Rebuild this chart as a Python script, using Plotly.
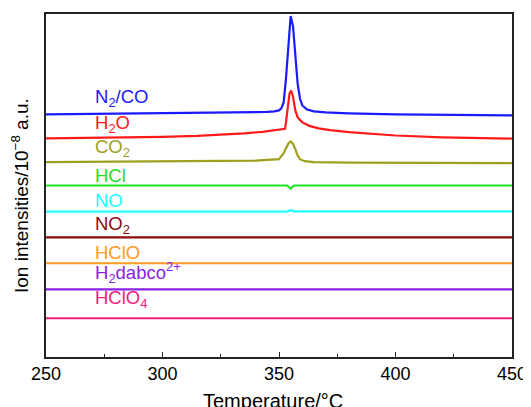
import plotly.graph_objects as go

# ---- data (intensities in arbitrary stacked units) ----
temp_n2co = [250, 300, 330, 340, 345, 348, 350, 351, 352, 353, 354, 355, 356, 357, 358, 359, 360, 362, 365, 370, 380, 400, 450]
n2co = [24.4, 24.5, 24.55, 24.6, 24.65, 24.7, 24.8, 25.0, 25.6, 28.0, 31.5, 34.3, 33.3, 30.0, 27.5, 26.0, 25.3, 24.9, 24.7, 24.6, 24.5, 24.4, 24.3]

temp_h2o = [250, 280, 300, 315, 325, 335, 343, 348, 352.6, 353.0, 353.5, 354.0, 354.5, 355.2, 356.0, 357.0, 358.0, 360.0, 363.0, 367.0, 372.0, 380.0, 390.0, 400.0, 420.0, 450.0]
h2o = [22.0, 22.08, 22.15, 22.25, 22.35, 22.5, 22.65, 22.78, 22.95, 23.6, 24.7, 25.8, 26.5, 26.8, 26.2, 24.8, 24.1, 23.6, 23.25, 23.0, 22.82, 22.62, 22.42, 22.28, 22.1, 21.97]

temp_co2 = [250, 300, 340, 350, 351, 352, 353, 354, 355, 356, 357, 358, 359, 361, 365, 380, 450]
co2 = [19.6, 19.65, 19.75, 19.9, 20.15, 20.5, 21.0, 21.45, 21.7, 21.45, 20.9, 20.25, 19.9, 19.7, 19.6, 19.55, 19.5]

temp_hcl = [250, 350, 353.5, 355, 356.5, 360, 450]
hcl = [17.25, 17.25, 17.25, 16.95, 17.25, 17.25, 17.25]

temp_no = [250, 350, 353.5, 355, 356.5, 360, 450]
no = [14.63, 14.63, 14.63, 14.77, 14.65, 14.65, 14.65]

temp_flat = [250, 450]
no2 = [12.03, 12.03]
hclo = [9.43, 9.43]
h2dabco = [6.8, 6.8]
hclo4 = [3.9, 3.9]

series_names = ["N<sub>2</sub>/CO", "H<sub>2</sub>O", "CO<sub>2</sub>", "HCl", "NO",
                "NO<sub>2</sub>", "HClO", "H<sub>2</sub>dabco<sup>2+</sup>", "HClO<sub>4</sub>"]
series_x = [temp_n2co, temp_h2o, temp_co2, temp_hcl, temp_no, temp_flat, temp_flat, temp_flat, temp_flat]
series_y = [n2co, h2o, co2, hcl, no, no2, hclo, h2dabco, hclo4]
colors = ["#1a1aff", "#ff1a1a", "#a0a020", "#22e022", "#22ffff", "#8b0a0a", "#ff9922", "#8a22e6", "#f0207f"]
label_y = [26.03, 23.43, 21.03, 18.3, 15.7, 13.25, 10.53, 8.5, 5.8]

fig = go.Figure()
for name, xs, ys, c in zip(series_names, series_x, series_y, colors):
    fig.add_trace(go.Scatter(x=xs, y=ys, mode="lines", name=name,
                             line=dict(color=c, width=2.2), showlegend=False))

FONT = "Liberation Sans, Arial, Helvetica, sans-serif"
for name, ly, c in zip(series_names, label_y, colors):
    fig.add_annotation(x=270.3, y=ly, xref="x", yref="y", text=name, showarrow=False,
                       xanchor="left", yanchor="middle",
                       font=dict(family=FONT, size=18.5, color=c))

fig.add_annotation(x=-0.0554, y=0.47, xref="paper", yref="paper",
                   text="Ion intensities/10<sup>\u22128</sup> a.u.", textangle=-90,
                   showarrow=False, xanchor="center", yanchor="middle",
                   font=dict(family=FONT, size=19, color="#000"))
fig.add_annotation(x=0.487, y=-0.089, xref="paper", yref="paper",
                   text="Temperature/\u00b0C", showarrow=False,
                   xanchor="center", yanchor="top",
                   font=dict(family=FONT, size=20, color="#000"))

# page body adds an 8px offset, so the figure is sized to fill the rest of the window
fig.update_layout(
    width=523, height=399,
    margin=dict(l=38, r=16, t=4, b=50),
    paper_bgcolor="white", plot_bgcolor="white",
    font=dict(family=FONT, size=18, color="#000"),
)
fig.update_xaxes(range=[250, 450], tickvals=[250, 300, 350, 400, 450],
                 ticks="inside", ticklen=5, tickwidth=1, tickcolor="#222",
                 minor=dict(ticks="inside", ticklen=3, tickwidth=1, tickcolor="#222", dtick=25, tick0=250),
                 showline=True, linecolor="#222", linewidth=1.5, mirror=True,
                 showgrid=False, zeroline=False, tickfont=dict(size=18))
fig.update_yaxes(range=[0, 34.5], showticklabels=False, ticks="",
                 showline=True, linecolor="#222", linewidth=1.5, mirror=True,
                 showgrid=False, zeroline=False)

fig.write_html("out.html")
